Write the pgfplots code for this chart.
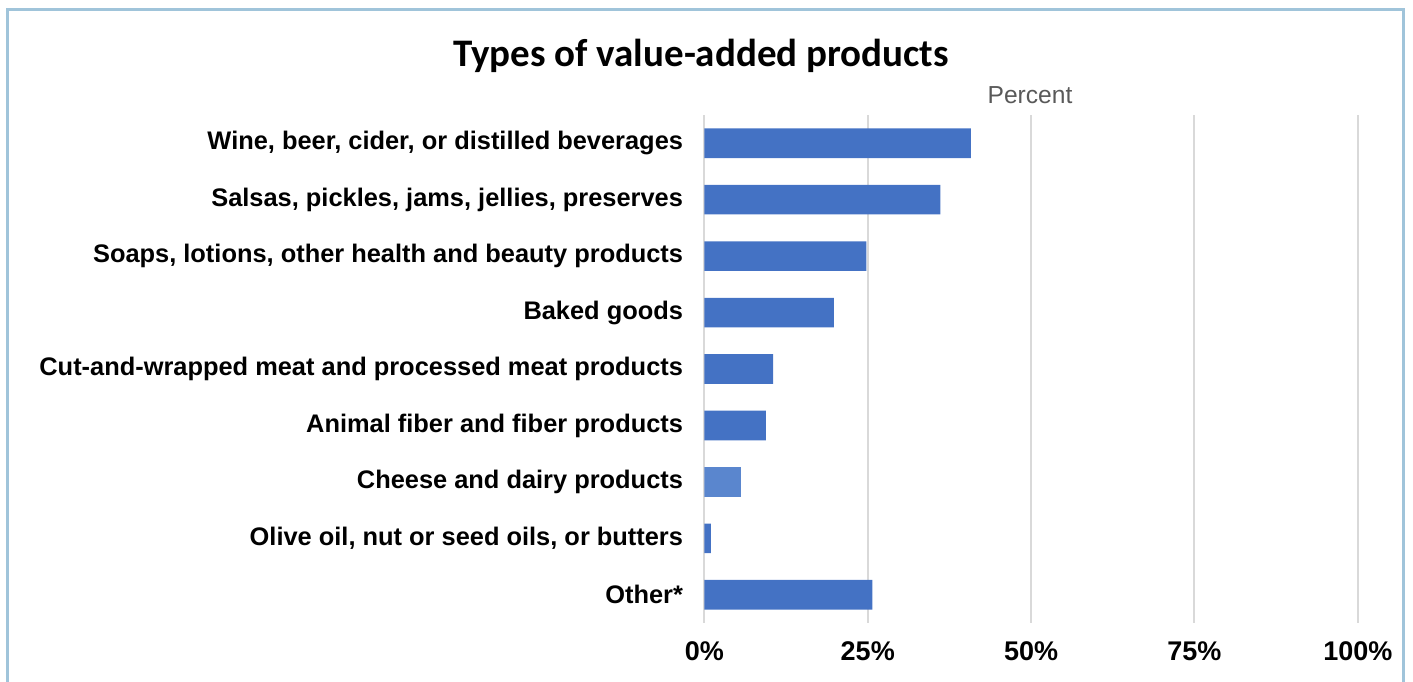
\documentclass[border=0pt]{standalone}
\usepackage{fontspec}
\setmainfont{Liberation Sans}
\newfontfamily\titlefont{Carlito}
\usepackage{pgfplots}
\pgfplotsset{compat=1.18}
\definecolor{barblue}{RGB}{68,114,196}
\definecolor{barlight}{RGB}{90,134,206}
\definecolor{framecol}{RGB}{160,196,218}
\definecolor{gridcol}{RGB}{217,217,217}
\definecolor{pctgray}{RGB}{89,89,89}
\begin{document}
\begin{tikzpicture}
\useasboundingbox (0,0) rectangle (706.5pt,340.5pt);
% outer frame (bottom edge falls off the page)
\draw[framecol,line width=1.5pt] (3.5pt,-5pt) -- (3.5pt,335.5pt) -- (701.5pt,335.5pt) -- (701.5pt,-5pt);
\node[font=\titlefont\bfseries\fontsize{19.5}{22}\selectfont] at (350.5pt,312.5pt) {Types of value-added products};
\node[font=\fontsize{12.3}{14}\selectfont,text=pctgray] at (515pt,293pt) {Percent};
\begin{axis}[
  at={(352.2pt,29pt)}, anchor=south west,
  scale only axis, width=326.7pt, height=254pt,
  xmin=0, xmax=100, ymin=-0.5, ymax=8.5, y dir=reverse,
  xbar, bar width=14.8pt, bar shift=0pt,
  axis line style={draw=none},
  major tick length=0pt,
  xtick={0,25,50,75,100},
  xticklabels={0\%,25\%,50\%,75\%,100\%},
  xmajorgrids, grid style={gridcol,line width=1pt},
  ytick={0,...,8},
  yticklabels={{Wine, beer, cider, or distilled beverages},
    {Salsas, pickles, jams, jellies, preserves},
    {Soaps, lotions, other health and beauty products},
    {Baked goods},
    {Cut-and-wrapped meat and processed meat products},
    {Animal fiber and fiber products},
    {Cheese and dairy products},
    {Olive oil, nut or seed oils, or butters},
    {Other*}},
  yticklabel style={font=\bfseries\fontsize{12.7}{15}\selectfont, anchor=east, inner sep=0pt, xshift=-10.5pt},
  xticklabel style={font=\bfseries\fontsize{13.5}{15}\selectfont, anchor=north, inner sep=0pt, yshift=-9.3pt},
]
\addplot[fill=barblue, draw=none] coordinates {
  (40.8,0) (36.1,1) (24.8,2) (19.8,3) (10.5,4) (9.4,5) (1.0,7) (25.7,8)};
\addplot[fill=barlight, draw=none] coordinates {(5.6,6)};
\end{axis}
\end{tikzpicture}
\end{document}
